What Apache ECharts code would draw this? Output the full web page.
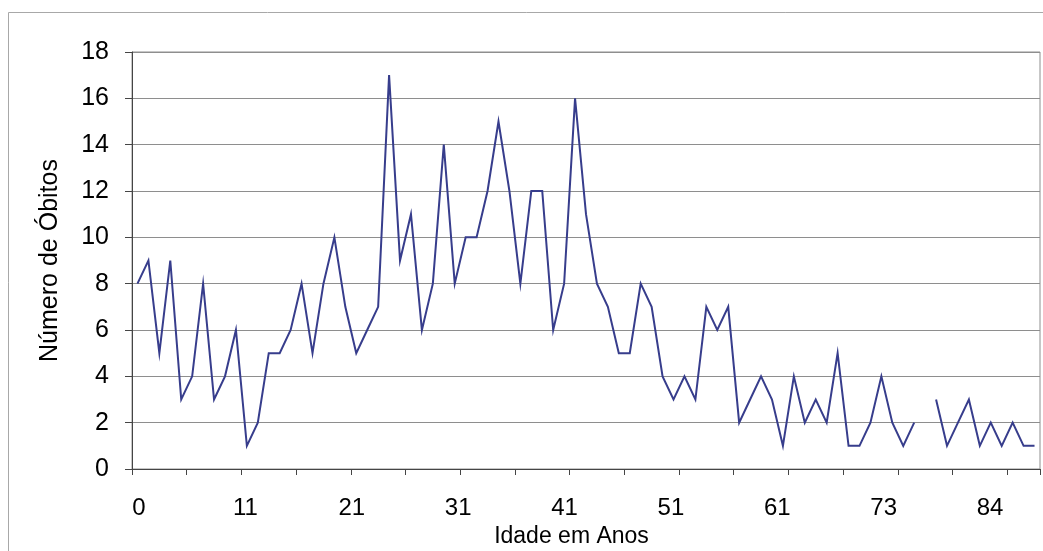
<!DOCTYPE html>
<html>
<head>
<meta charset="utf-8">
<script src="https://cdn.jsdelivr.net/npm/echarts@6/dist/echarts.min.js"></script>
<style>
  html, body { margin: 0; padding: 0; background: #fff; }
  #chart { width: 1043px; height: 551px; }
</style>
</head>
<body>
<div id="chart"></div>
<script>
// One category per recorded age (years)
const ages = [
  0, 1, 2, 3, 4, 5, 6, 7, 8, 9,
  11, 12, 13, 14, 15, 16, 17, 18, 19, 20,
  21, 22, 23, 24, 25, 26, 27, 28, 29, 30,
  31, 32, 33, 34, 35, 36, 37, 38, 39, 40,
  41, 42, 43, 44, 45, 46, 47, 48, 49, 50,
  51, 52, 53, 54, 55, 56, 57, 58, 59, 60,
  61, 62, 63, 64, 65, 66, 67, 68, 70, 71,
  73, 74, 75, 76, 77, 78, 79, 80, 82, 83,
  84, 85, 86
];

// Number of deaths at each age (null = no value recorded)
const deaths = [
  8, 9, 5, 9, 3, 4, 8, 3, 4, 6,
  1, 2, 5, 5, 6, 8, 5, 8, 10, 7,
  5, 6, 7, 17, 9, 11, 6, 8, 14, 8,
  10, 10, 12, 15, 12, 8, 12, 12, 6, 8,
  16, 11, 8, 7, 5, 5, 8, 7, 4, 3,
  4, 3, 7, 6, 7, 2, 3, 4, 3, 1,
  4, 2, 3, 2, 5, 1, 1, 2, 4, 2,
  1, 2, null, 3, 1, 2, 3, 1, 2, 1,
  2, 1, 1
];

// Age labels printed under the horizontal axis
const ageTickLabels = ['0', '11', '21', '31', '41', '51', '61', '73', '84'];

const FONT = '"Liberation Sans", Arial, sans-serif';
const AXIS_COLOR = '#454545';
const GRID_COLOR = '#8e8e8e';
const LINE_COLOR = '#373d8c';

const chart = echarts.init(document.getElementById('chart'), null, { renderer: 'canvas' });

chart.setOption({
  animation: false,
  backgroundColor: '#fff',
  textStyle: { fontFamily: FONT },
  graphic: [{
    type: 'rect',
    shape: { x: 8.5, y: 12.5, width: 1060, height: 600 },
    style: { fill: 'none', stroke: '#a8a8a8', lineWidth: 1 },
    silent: true,
    z: -10
  }],
  grid: [
    {
      left: 132, right: 3, top: 52, bottom: 82,
      show: true, borderColor: GRID_COLOR, borderWidth: 1,
      containLabel: false, outerBoundsMode: 'none'
    },
    {
      left: 139, right: 53, top: 52, bottom: 82,
      show: false, containLabel: false, outerBoundsMode: 'none'
    }
  ],
  xAxis: [
    {
      gridIndex: 0,
      type: 'category',
      data: ages,
      boundaryGap: true,
      axisLine: { show: true, lineStyle: { color: AXIS_COLOR, width: 1 } },
      axisTick: { show: true, interval: 4, length: 6, lineStyle: { color: AXIS_COLOR } },
      axisLabel: { show: false },
      splitLine: { show: false }
    },
    {
      gridIndex: 1,
      type: 'category',
      data: ageTickLabels,
      boundaryGap: false,
      axisLine: { show: false },
      axisTick: { show: false },
      axisLabel: {
        show: true, interval: 0, margin: 27,
        fontSize: 24, color: '#000', fontFamily: FONT
      },
      splitLine: { show: false },
      name: 'Idade em Anos',
      nameLocation: 'middle',
      nameGap: 55,
      nameTextStyle: { fontSize: 23, color: '#000', fontFamily: FONT, padding: [0, 0, 0, 14] }
    }
  ],
  yAxis: [
    {
      gridIndex: 0,
      type: 'value',
      min: 0, max: 18, interval: 2,
      axisLine: { show: true, lineStyle: { color: AXIS_COLOR, width: 1 } },
      axisTick: { show: true, length: 7, lineStyle: { color: AXIS_COLOR } },
      axisLabel: { margin: 23, fontSize: 25, color: '#000', fontFamily: FONT },
      splitLine: { show: true, lineStyle: { color: GRID_COLOR, width: 1 } },
      name: 'Número de Óbitos',
      nameLocation: 'middle',
      nameRotate: 90,
      nameGap: 69,
      nameTextStyle: { fontSize: 25, color: '#000', fontFamily: FONT }
    },
    {
      gridIndex: 1,
      type: 'value',
      min: 0, max: 1,
      show: false
    }
  ],
  series: [{
    type: 'line',
    xAxisIndex: 0,
    yAxisIndex: 0,
    data: deaths,
    symbol: 'none',
    connectNulls: false,
    lineStyle: { color: LINE_COLOR, width: 2, join: 'miter', miterLimit: 10 }
  }]
});
</script>
</body>
</html>
